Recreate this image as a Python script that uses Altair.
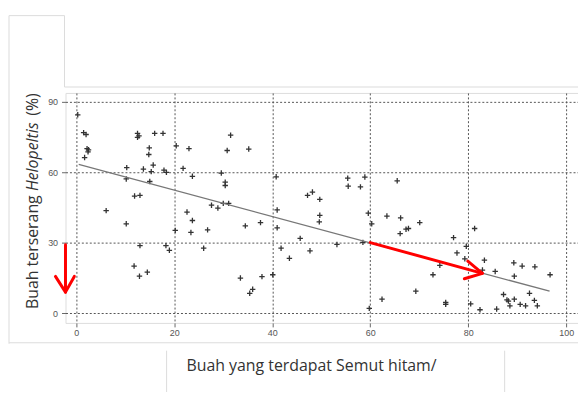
import altair as alt
import pandas as pd

# scatter data (x: % fruit with black ants, y: % fruit attacked by Helopeltis)
xs = [0.3, 1.5, 2.0, 2.2, 2.5, 2.4, 1.7, 12.5, 12.8, 12.5, 16.0, 17.7, 14.9, 14.8, 15.7, 10.3,
      13.7, 15.3, 17.9, 18.4, 10.2, 15.0, 11.9, 13.0, 6.1, 10.2, 13.0, 18.3, 19.0, 11.8, 14.5,
      12.9, 20.2, 31.5, 20.4, 23.0, 30.8, 35.2, 21.8, 23.7, 29.6, 30.4, 30.4, 27.6, 28.9, 30.0,
      31.1, 22.6, 23.7, 23.4, 26.8, 34.5, 37.6, 26.0, 33.5, 37.9, 36.0, 35.4, 40.1, 40.8, 41.0,
      41.0, 55.4, 58.9, 55.5, 58.0, 47.2, 48.2, 49.7, 49.7, 49.6, 59.6, 60.3, 45.7, 41.8, 47.7,
      43.5, 53.2, 58.5, 59.8, 65.5, 63.4, 66.2, 70.1, 67.3, 67.8, 66.1, 77.0, 79.6, 77.7, 79.3,
      74.2, 72.8, 69.3, 62.4, 75.4, 75.4, 80.5, 81.3, 83.3, 82.9, 85.5, 89.3, 91.0, 93.6, 89.4,
      96.7, 87.2, 87.9, 88.2, 88.5, 89.4, 90.6, 91.7, 92.5, 93.5, 94.1, 82.4, 85.8]
ys = [84.4, 76.8, 76.0, 70.0, 69.5, 68.6, 66.2, 76.5, 75.4, 74.8, 76.5, 76.5, 70.3, 67.5, 63.0, 61.9,
      61.3, 60.2, 60.8, 59.9, 57.1, 56.0, 49.8, 50.1, 43.6, 38.0, 28.7, 28.7, 26.7, 20.0, 17.4,
      15.7, 35.2, 75.7, 71.2, 70.0, 69.2, 69.8, 61.6, 58.2, 59.6, 55.7, 54.3, 45.9, 44.7, 46.7,
      46.7, 43.0, 39.4, 34.3, 35.4, 37.1, 38.5, 27.6, 14.9, 15.5, 10.1, 8.4, 16.3, 58.0, 43.9,
      36.3, 57.4, 57.9, 54.0, 53.7, 50.1, 51.5, 48.4, 41.6, 38.8, 42.5, 38.0, 31.8, 27.6, 26.5,
      23.3, 29.2, 30.1, 2.0, 56.3, 41.3, 40.5, 38.5, 35.7, 36.0, 33.8, 32.1, 28.4, 25.6, 23.1,
      20.3, 16.3, 9.3, 5.9, 3.7, 4.5, 3.9, 36.0, 22.5, 18.3, 17.7, 21.4, 20.0, 19.7, 15.7,
      16.3, 7.9, 5.6, 5.1, 3.1, 5.9, 3.7, 3.1, 8.4, 5.4, 3.1, 1.4, 1.7]

# regression line end points
fit_x = [0.5, 96.6]
fit_y = [63.3, 9.3]

# red arrows (shaft and head polylines)
arrow_x = [-2.2, -2.2, -4.25, -2.2, -0.4, 60.0, 82.9, 79.9, 82.9, 79.2]
arrow_y = [29.1, 8.9, 15.6, 8.9, 15.6, 30.0, 16.9, 22.1, 16.9, 14.6]
arrow_seg = ["a", "a", "ah", "ah", "ah", "b", "b", "bh", "bh", "bh"]

x_ticks = [0, 20, 40, 60, 80, 100]
y_ticks = [0, 30, 60, 90]

x_title = "Buah yang terdapat Semut hitam/"
y_title_parts = ["Buah terserang ", "Helopeltis", "(%)"]

pts = pd.DataFrame({"x": xs, "y": ys})
fit = pd.DataFrame({"x": fit_x, "y": fit_y})
arr = pd.DataFrame({"x": arrow_x, "y": arrow_y, "seg": arrow_seg, "o": list(range(len(arrow_x)))})

xs_scale = alt.Scale(domain=[-2.2, 102.4], nice=False, zero=False)
ys_scale = alt.Scale(domain=[-4.2, 93.7], nice=False, zero=False)

axis_common = dict(grid=True, gridDash=[2, 2], gridColor="#555", gridWidth=1,
                   domain=False, ticks=True, tickColor="#666", tickSize=4,
                   labelFontSize=9, labelColor="#555", labelFont="Liberation Sans",
                   title=None)

base_pts = alt.Chart(pts).mark_point(
    shape="M-1,0L1,0M0,-1L0,1", size=30, filled=False, stroke="#333",
    strokeWidth=1.3, opacity=1
).encode(
    x=alt.X("x:Q", scale=xs_scale, axis=alt.Axis(values=x_ticks, labelPadding=2, **axis_common)),
    y=alt.Y("y:Q", scale=ys_scale, axis=alt.Axis(values=y_ticks, labelPadding=4, **axis_common)),
)

fit_line = alt.Chart(fit).mark_line(color="#777", strokeWidth=1.3).encode(
    x=alt.X("x:Q", scale=xs_scale), y=alt.Y("y:Q", scale=ys_scale)
)

arrows = alt.Chart(arr).mark_line(color="#ff0000", strokeWidth=3, strokeCap="round",
                                  strokeJoin="round", clip=False).encode(
    x=alt.X("x:Q", scale=xs_scale), y=alt.Y("y:Q", scale=ys_scale),
    detail="seg:N", order="o:Q"
)

# decorative faint box outlines from the source slide
def rule(x1, x2, y1, y2):
    return alt.Chart(pd.DataFrame({"k": [0]})).mark_rule(color="#dcdcdc", strokeWidth=1).encode(
        x=alt.value(x1), x2=alt.value(x2), y=alt.value(y1), y2=alt.value(y2))

deco = [
    rule(-57, -57, -78, 253),
    rule(-57, -1, -78, -78),
    rule(-1, -1, -78, -6),
    rule(-1, 520, -6, -6),
    rule(-57, 520, 252, 252),
    rule(102, 102, 260, 310),
    rule(443, 443, 260, 310),
]

def txt(s, x, y, angle=0, italic=False, align="left", baseline="alphabetic"):
    kw = dict(text=s, font="Open Sans", fontSize=16, color="#333", align=align,
              baseline=baseline, angle=angle)
    if italic:
        kw["fontStyle"] = "italic"
    return alt.Chart(pd.DataFrame({"k": [0]})).mark_text(**kw).encode(
        x=alt.value(x), y=alt.value(y))

texts = [
    txt(x_title, 122, 281),
    txt(y_title_parts[0], -33, 218, angle=270, baseline="middle"),
    txt(y_title_parts[1], -33, 99, angle=270, italic=True, baseline="middle"),
    txt(y_title_parts[2], -33, 23, angle=270, baseline="middle"),
]

chart = alt.layer(*deco, base_pts, fit_line, arrows, *texts).properties(
    width=517, height=232,
    autosize=alt.AutoSizeParams(type="none"),
    padding={"left": 58, "top": 84, "right": 0, "bottom": 68},
).configure_view(stroke="#666", strokeWidth=1.5).configure(background="white")

chart.save("out.html", embed_options={"renderer": "svg", "actions": False})
